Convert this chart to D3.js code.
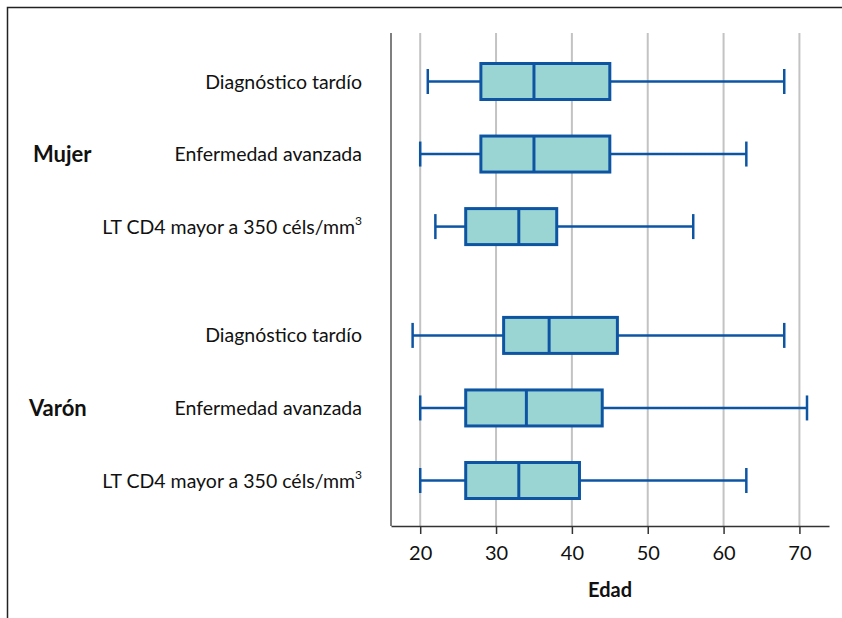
<!DOCTYPE html>
<html>
<head>
<meta charset="utf-8">
<script src="https://cdn.jsdelivr.net/npm/d3@7"></script>
<style>
  body { margin: 0; background: #fff; }
  svg { display: block; font-family: Lato, "Open Sans", sans-serif; }
</style>
</head>
<body>
<div id="chart"></div>
<script>
// grupos y categorías
const groups = ["Mujer", "Varón"];
const categories = ["Diagnóstico tardío", "Enfermedad avanzada", "LT CD4 mayor a 350 céls/mm"];
// valores de cada caja, en orden: Mujer x3, Varón x3
const mins    = [21, 20, 22, 19, 20, 20];
const q1s     = [28, 28, 26, 31, 26, 26];
const medians = [35, 35, 33, 37, 34, 33];
const q3s     = [45, 45, 38, 46, 44, 41];
const maxs    = [68, 63, 56, 68, 71, 63];
const xTicks  = [20, 30, 40, 50, 60, 70];

const width = 842, height = 618;
const boxH = 36, capH = 25;
const blue = "#0d55a3", fill = "#9bd5d3";

// armar las filas
let rows = [];
groups.forEach((g, gi) => {
    categories.forEach((c, ci) => {
        const i = gi * categories.length + ci;
        rows.push({
            group: g, cat: c, pos: i + gi * 0.5,
            min: mins[i], q1: q1s[i], med: medians[i], q3: q3s[i], max: maxs[i]
        });
    });
});

const svg = d3.select("#chart").append("svg")
    .attr("width", width)
    .attr("height", height);

// marco
svg.append("path")
    .attr("d", `M7.5,${height} V7.5 H${width}`)
    .attr("fill", "none")
    .attr("stroke", "#222")
    .attr("stroke-width", 1.5);

const x = d3.scaleLinear().domain([16.15, 73.9]).range([391, 829]);
const y = d3.scaleLinear().domain([0, 5.5]).range([81.5, 480.5]);
const plotTop = 33, plotBottom = 526;

// grilla
svg.selectAll(".grid")
    .data(xTicks)
    .enter()
    .append("line")
    .attr("x1", d => x(d)).attr("x2", d => x(d))
    .attr("y1", plotTop).attr("y2", plotBottom)
    .attr("stroke", "#c3c3c3")
    .attr("stroke-width", 2);

// eje x
const xAxis = svg.append("g")
    .attr("transform", `translate(0,${plotBottom})`)
    .call(d3.axisBottom(x).tickValues(xTicks).tickSize(8).tickPadding(12).tickSizeOuter(0));
xAxis.select(".domain").attr("stroke", "#333").attr("stroke-width", 1.5);
xAxis.selectAll(".tick line").attr("stroke", "#333").attr("stroke-width", 1.5);
xAxis.selectAll(".tick text")
    .attr("font-size", "20px")
    .attr("font-family", "Lato, sans-serif")
    .attr("fill", "#111");

// eje y (línea)
svg.append("line")
    .attr("x1", 391).attr("x2", 391)
    .attr("y1", plotTop).attr("y2", plotBottom)
    .attr("stroke", "#555")
    .attr("stroke-width", 1.5);

svg.append("text")
    .attr("x", (x(16.15) + x(73.9)) / 2)
    .attr("y", 597)
    .attr("text-anchor", "middle")
    .attr("font-size", "20px")
    .attr("font-weight", "bold")
    .attr("fill", "#111")
    .text("Edad");

// bigotes
const box = svg.selectAll(".box")
    .data(rows)
    .enter()
    .append("g");

box.append("line")
    .attr("x1", d => x(d.min)).attr("x2", d => x(d.q1))
    .attr("y1", d => y(d.pos)).attr("y2", d => y(d.pos))
    .attr("stroke", blue).attr("stroke-width", 2.5);
box.append("line")
    .attr("x1", d => x(d.q3)).attr("x2", d => x(d.max))
    .attr("y1", d => y(d.pos)).attr("y2", d => y(d.pos))
    .attr("stroke", blue).attr("stroke-width", 2.5);
box.append("line")
    .attr("x1", d => x(d.min)).attr("x2", d => x(d.min))
    .attr("y1", d => y(d.pos) - capH / 2).attr("y2", d => y(d.pos) + capH / 2)
    .attr("stroke", blue).attr("stroke-width", 2.5);
box.append("line")
    .attr("x1", d => x(d.max)).attr("x2", d => x(d.max))
    .attr("y1", d => y(d.pos) - capH / 2).attr("y2", d => y(d.pos) + capH / 2)
    .attr("stroke", blue).attr("stroke-width", 2.5);

// cajas
box.append("rect")
    .attr("x", d => x(d.q1))
    .attr("width", d => x(d.q3) - x(d.q1))
    .attr("y", d => y(d.pos) - boxH / 2)
    .attr("height", boxH)
    .attr("fill", fill)
    .attr("stroke", blue)
    .attr("stroke-width", 3);
box.append("line")
    .attr("x1", d => x(d.med)).attr("x2", d => x(d.med))
    .attr("y1", d => y(d.pos) - boxH / 2).attr("y2", d => y(d.pos) + boxH / 2)
    .attr("stroke", blue).attr("stroke-width", 3);

// etiquetas de categoría
const labels = svg.selectAll(".cat")
    .data(rows)
    .enter()
    .append("text")
    .attr("x", 362)
    .attr("y", d => y(d.pos) + 7)
    .attr("text-anchor", "end")
    .attr("font-size", "19.5px")
    .attr("fill", "#111")
    .text(d => d.cat);
labels.filter(d => d.cat.endsWith("mm"))
    .append("tspan")
    .attr("font-size", "12px")
    .attr("dy", -9)
    .text("3");

// etiquetas de grupo
svg.selectAll(".grp")
    .data(groups)
    .enter()
    .append("text")
    .attr("x", (d, i) => i === 0 ? 33 : 29)
    .attr("y", (d, i) => y(rows[i * 3 + 1].pos) + 8)
    .attr("font-size", "22px")
    .attr("font-weight", "bold")
    .attr("fill", "#111")
    .text(d => d);
</script>
</body>
</html>
